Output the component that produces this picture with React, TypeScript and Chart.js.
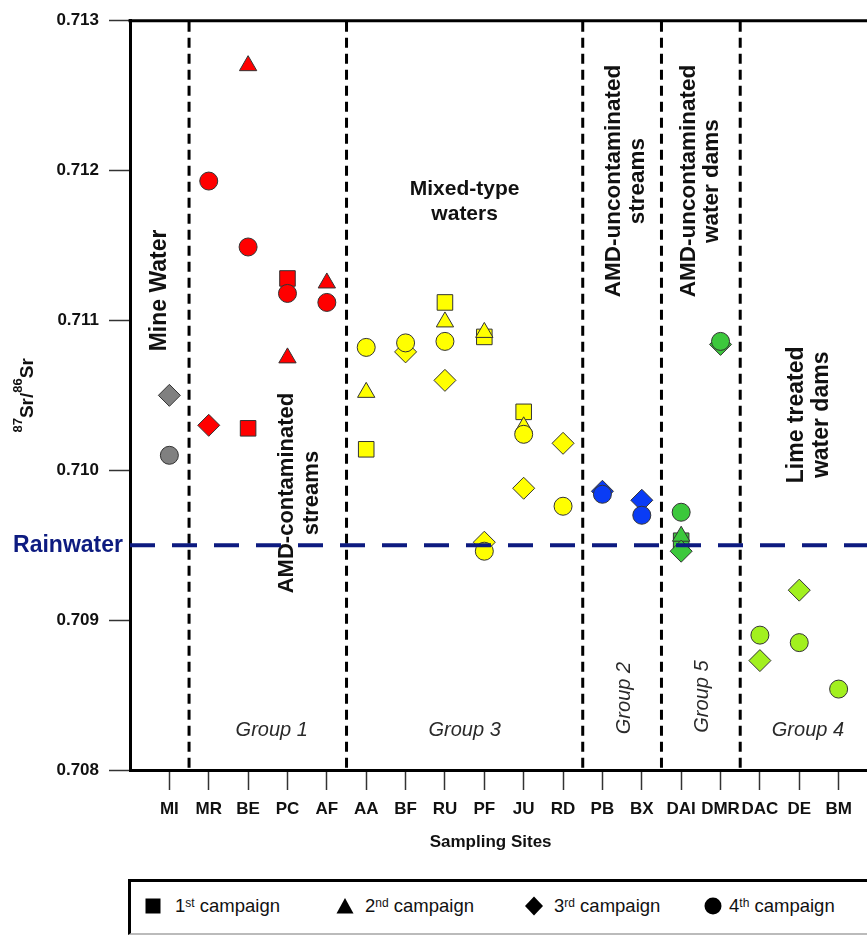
import React, { useEffect, useRef } from 'react';
import { Chart, registerables } from 'chart.js';

Chart.register(...registerables);

// ---------- data ----------
const sites = ['MI', 'MR', 'BE', 'PC', 'AF', 'AA', 'BF', 'RU', 'PF', 'JU', 'RD', 'PB', 'BX', 'DAI', 'DMR', 'DAC', 'DE', 'BM'];

// 1st campaign (squares)
const campaign1 = [null, null, 0.71028, 0.71128, null, 0.71014, null, 0.71112, 0.71089, 0.71039, null, null, null, 0.70953, null, null, null, null];
// 2nd campaign (triangles)
const campaign2 = [null, null, 0.7127, 0.71075, 0.71125, 0.71052, null, 0.71099, 0.71092, 0.71029, null, null, null, 0.70956, null, null, null, null];
// 3rd campaign (diamonds)
const campaign3 = [0.7105, 0.7103, null, null, null, null, 0.71079, 0.7106, 0.70952, 0.70988, 0.71018, 0.70986, 0.7098, 0.70946, 0.71084, 0.70873, 0.7092, null];
// 4th campaign (circles)
const campaign4 = [0.7101, 0.71193, 0.71149, 0.71118, 0.71112, 0.71082, 0.71085, 0.71086, 0.70946, 0.71024, 0.70976, 0.70984, 0.7097, 0.70972, 0.71086, 0.7089, 0.70885, 0.70854];

const yTicks = [0.708, 0.709, 0.71, 0.711, 0.712, 0.713];
const rainwaterValue = 0.7095;
const groupBoundaries = [1.5, 5.5, 11.5, 13.5, 15.5];

// ---------- styles ----------
const GRAY = '#808080';
const RED = '#ff0000';
const YELLOW = '#ffff00';
const BLUE = '#0a3cf5';
const GREEN = '#3cc83c';
const LIME = '#a2f01e';
const siteColors = [GRAY, RED, RED, RED, RED, YELLOW, YELLOW, YELLOW, YELLOW, YELLOW, YELLOW, BLUE, BLUE, GREEN, GREEN, LIME, LIME, LIME];

const FONT = '"Liberation Sans", Arial, Helvetica, sans-serif';
const NAVY = '#0d1b80';

type Ann = { lines: string[]; x: number; y: number; rotate: boolean; font: string; color: string; lh: number };
const annotations: Ann[] = [
  { lines: ['Mine Water'], x: 0.76, y: 0.71120, rotate: true, font: `bold 23px ${FONT}`, color: '#111', lh: 25 },
  { lines: ['AMD-contaminated', 'streams'], x: 4.3, y: 0.709848, rotate: true, font: `bold 22px ${FONT}`, color: '#111', lh: 25 },
  { lines: ['Mixed-type', 'waters'], x: 8.5, y: 0.71179, rotate: false, font: `bold 21px ${FONT}`, color: '#111', lh: 25 },
  { lines: ['AMD-uncontaminated', 'streams'], x: 12.6, y: 0.71193, rotate: true, font: `bold 22.5px ${FONT}`, color: '#111', lh: 24 },
  { lines: ['AMD-uncontaminated', 'water dams'], x: 14.48, y: 0.71193, rotate: true, font: `bold 22.5px ${FONT}`, color: '#111', lh: 23 },
  { lines: ['Lime treated', 'water dams'], x: 17.24, y: 0.71037, rotate: true, font: `bold 23px ${FONT}`, color: '#111', lh: 25 },
  { lines: ['Group 1'], x: 3.6, y: 0.708267, rotate: false, font: `italic 20px ${FONT}`, color: '#2a2a2a', lh: 22 },
  { lines: ['Group 3'], x: 8.5, y: 0.708267, rotate: false, font: `italic 20px ${FONT}`, color: '#2a2a2a', lh: 22 },
  { lines: ['Group 2'], x: 12.56, y: 0.70848, rotate: true, font: `italic 20px ${FONT}`, color: '#2a2a2a', lh: 22 },
  { lines: ['Group 5'], x: 14.54, y: 0.70849, rotate: true, font: `italic 20px ${FONT}`, color: '#2a2a2a', lh: 22 },
  { lines: ['Group 4'], x: 17.22, y: 0.708267, rotate: false, font: `italic 20px ${FONT}`, color: '#2a2a2a', lh: 22 },
];

function buildDataset(values: (number | null)[], label: string, pointStyle: string, radius: number, order: number) {
  const data: { x: number; y: number }[] = [];
  const colors: string[] = [];
  values.forEach((v, i) => {
    if (v !== null && v !== undefined) {
      data.push({ x: i + 1, y: v });
      colors.push(siteColors[i]);
    }
  });
  return {
    label,
    data,
    showLine: false,
    pointStyle,
    pointRadius: radius,
    pointHoverRadius: radius,
    pointBackgroundColor: colors,
    pointBorderColor: '#333',
    pointBorderWidth: 1,
    order,
  };
}

const annotationPlugin = {
  id: 'annotationPlugin',
  beforeDatasetsDraw(chart: any) {
    const { ctx, chartArea: a, scales } = chart;
    const x = scales.x;
    const y = scales.y;
    ctx.save();
    // top border
    ctx.strokeStyle = '#000';
    ctx.lineWidth = 3;
    ctx.beginPath();
    ctx.moveTo(a.left - 1.5, a.top);
    ctx.lineTo(a.right + 2, a.top);
    ctx.stroke();
    // group separators
    ctx.setLineDash([10, 6]);
    ctx.lineWidth = 3;
    groupBoundaries.forEach((b) => {
      const px = x.getPixelForValue(b);
      ctx.beginPath();
      ctx.moveTo(px, a.top + 1);
      ctx.lineTo(px, a.bottom);
      ctx.stroke();
    });
    ctx.setLineDash([]);
    // text annotations
    annotations.forEach((an) => {
      const px = x.getPixelForValue(an.x);
      const py = y.getPixelForValue(an.y);
      ctx.save();
      ctx.font = an.font;
      ctx.fillStyle = an.color;
      ctx.textAlign = 'center';
      ctx.textBaseline = 'middle';
      ctx.translate(px, py);
      if (an.rotate) ctx.rotate(-Math.PI / 2);
      const n = an.lines.length;
      an.lines.forEach((line, i) => {
        const off = (i - (n - 1) / 2) * an.lh;
        ctx.fillText(line, 0, off);
      });
      ctx.restore();
    });
    ctx.restore();
  },
  afterDatasetsDraw(chart: any) {
    const { ctx, chartArea: a, scales } = chart;
    const x = scales.x;
    const y = scales.y;
    ctx.save();
    // Rainwater line
    const ry = y.getPixelForValue(rainwaterValue);
    ctx.strokeStyle = NAVY;
    ctx.lineWidth = 4;
    ctx.setLineDash([25, 17]);
    ctx.beginPath();
    ctx.moveTo(a.left, ry);
    ctx.lineTo(a.right, ry);
    ctx.stroke();
    ctx.setLineDash([]);
    // Rainwater label
    ctx.font = `bold 23px ${FONT}`;
    ctx.fillStyle = NAVY;
    ctx.textAlign = 'right';
    ctx.textBaseline = 'middle';
    ctx.fillText('Rainwater', a.left - 7, ry);
    // X axis title
    ctx.font = `bold 17px ${FONT}`;
    ctx.fillStyle = '#111';
    ctx.textAlign = 'center';
    ctx.textBaseline = 'middle';
    ctx.fillText('Sampling Sites', x.getPixelForValue(9.16), a.bottom + 72);
    // Y axis title: 87Sr/86Sr
    ctx.save();
    const cy = y.getPixelForValue(0.7105);
    ctx.translate(33, cy);
    ctx.rotate(-Math.PI / 2);
    ctx.textBaseline = 'alphabetic';
    ctx.textAlign = 'left';
    ctx.fillStyle = '#111';
    const segs = [
      { t: '87', sup: true },
      { t: 'Sr/', sup: false },
      { t: '86', sup: true },
      { t: 'Sr', sup: false },
    ];
    const supFont = `bold 13px ${FONT}`;
    const mainFont = `bold 19px ${FONT}`;
    let total = 0;
    segs.forEach((s) => {
      ctx.font = s.sup ? supFont : mainFont;
      total += ctx.measureText(s.t).width;
    });
    let cx = -total / 2;
    segs.forEach((s) => {
      ctx.font = s.sup ? supFont : mainFont;
      ctx.fillText(s.t, cx, s.sup ? -11 : 0);
      cx += ctx.measureText(s.t).width;
    });
    ctx.restore();
    ctx.restore();
  },
};

function LegendMarker({ shape }: { shape: string }) {
  const size = 20;
  let el: any = null;
  if (shape === 'square') el = <rect x={2.5} y={2.5} width={15} height={15} fill="#000" />;
  if (shape === 'triangle') el = <polygon points="10,2 18.5,17.5 1.5,17.5" fill="#000" />;
  if (shape === 'diamond') el = <polygon points="10,0.5 19,10 10,19.5 1,10" fill="#000" />;
  if (shape === 'circle') el = <circle cx={10} cy={10} r={8.5} fill="#000" />;
  return (
    <svg width={size} height={size} style={{ display: 'block' }}>
      {el}
    </svg>
  );
}

const legendItems = [
  { shape: 'square', num: '1', sup: 'st', markerX: 143, textX: 175 },
  { shape: 'triangle', num: '2', sup: 'nd', markerX: 335, textX: 365 },
  { shape: 'diamond', num: '3', sup: 'rd', markerX: 524, textX: 554 },
  { shape: 'circle', num: '4', sup: 'th', markerX: 703, textX: 729 },
];

export default function App() {
  const canvasRef = useRef<HTMLCanvasElement | null>(null);

  useEffect(() => {
    const canvas = canvasRef.current;
    if (!canvas) return;
    const chart = new Chart(canvas, {
      type: 'scatter',
      data: {
        datasets: [
          buildDataset(campaign4, '4th campaign', 'circle', 9, 1) as any,
          buildDataset(campaign3, '3rd campaign', 'rectRot', 11, 2) as any,
          buildDataset(campaign2, '2nd campaign', 'triangle', 10, 3) as any,
          buildDataset(campaign1, '1st campaign', 'rect', 11, 4) as any,
        ],
      },
      options: {
        responsive: false,
        maintainAspectRatio: false,
        animation: false,
        devicePixelRatio: 1,
        layout: { padding: { left: 0, top: 20.7, right: 11, bottom: 0 } },
        plugins: {
          legend: { display: false },
          tooltip: { enabled: false },
        },
        events: [],
        scales: {
          x: {
            type: 'linear',
            min: 0,
            max: 19,
            afterFit: (s: any) => {
              s.height = 165;
            },
            afterBuildTicks: (s: any) => {
              s.ticks = sites.map((_, i) => ({ value: i + 1 }));
            },
            ticks: {
              autoSkip: false,
              maxRotation: 0,
              minRotation: 0,
              padding: 9,
              color: '#111',
              font: { family: FONT, size: 17, weight: 'bold' },
              callback: (v: any) => sites[Math.round(Number(v)) - 1] ?? '',
            },
            grid: {
              drawOnChartArea: false,
              drawTicks: true,
              tickLength: 20,
              tickColor: '#333',
              tickWidth: 1.5,
            },
            border: { display: true, color: '#000', width: 3 },
          },
          y: {
            type: 'linear',
            min: 0.708,
            max: 0.713,
            afterFit: (s: any) => {
              s.width = 130;
            },
            afterBuildTicks: (s: any) => {
              s.ticks = yTicks.map((v) => ({ value: v }));
            },
            ticks: {
              padding: 10,
              color: '#111',
              font: { family: FONT, size: 17, weight: 'bold' },
              callback: (v: any) => Number(v).toFixed(3),
            },
            grid: {
              drawOnChartArea: false,
              drawTicks: true,
              tickLength: 21,
              tickColor: '#333',
              tickWidth: 1.5,
            },
            border: { display: true, color: '#000', width: 3 },
          },
        },
      } as any,
      plugins: [annotationPlugin],
    });
    return () => {
      chart.destroy();
    };
  }, []);

  return (
    <div
      style={{
        position: 'absolute',
        left: 0,
        top: 0,
        width: 867,
        height: 935,
        overflow: 'hidden',
        background: '#fff',
      }}
    >
      <canvas ref={canvasRef} width={890} height={935} style={{ width: 890, height: 935, display: 'block' }} />
      <div
        style={{
          position: 'absolute',
          left: 128,
          top: 879,
          width: 780,
          height: 56,
          boxSizing: 'border-box',
          border: '3px solid #000',
          borderBottom: '2px solid #bbb',
          background: '#fff',
        }}
      />
      {legendItems.map((it) => (
        <React.Fragment key={it.num}>
          <div style={{ position: 'absolute', left: it.markerX, top: 896 }}>
            <LegendMarker shape={it.shape} />
          </div>
          <div
            style={{
              position: 'absolute',
              left: it.textX,
              top: 895,
              fontFamily: FONT,
              fontSize: 18.5,
              color: '#111',
              whiteSpace: 'nowrap',
              lineHeight: '22px',
            }}
          >
            {it.num}
            <sup style={{ fontSize: 12, verticalAlign: 'top', position: 'relative', top: -3 }}>{it.sup}</sup> campaign
          </div>
        </React.Fragment>
      ))}
    </div>
  );
}
